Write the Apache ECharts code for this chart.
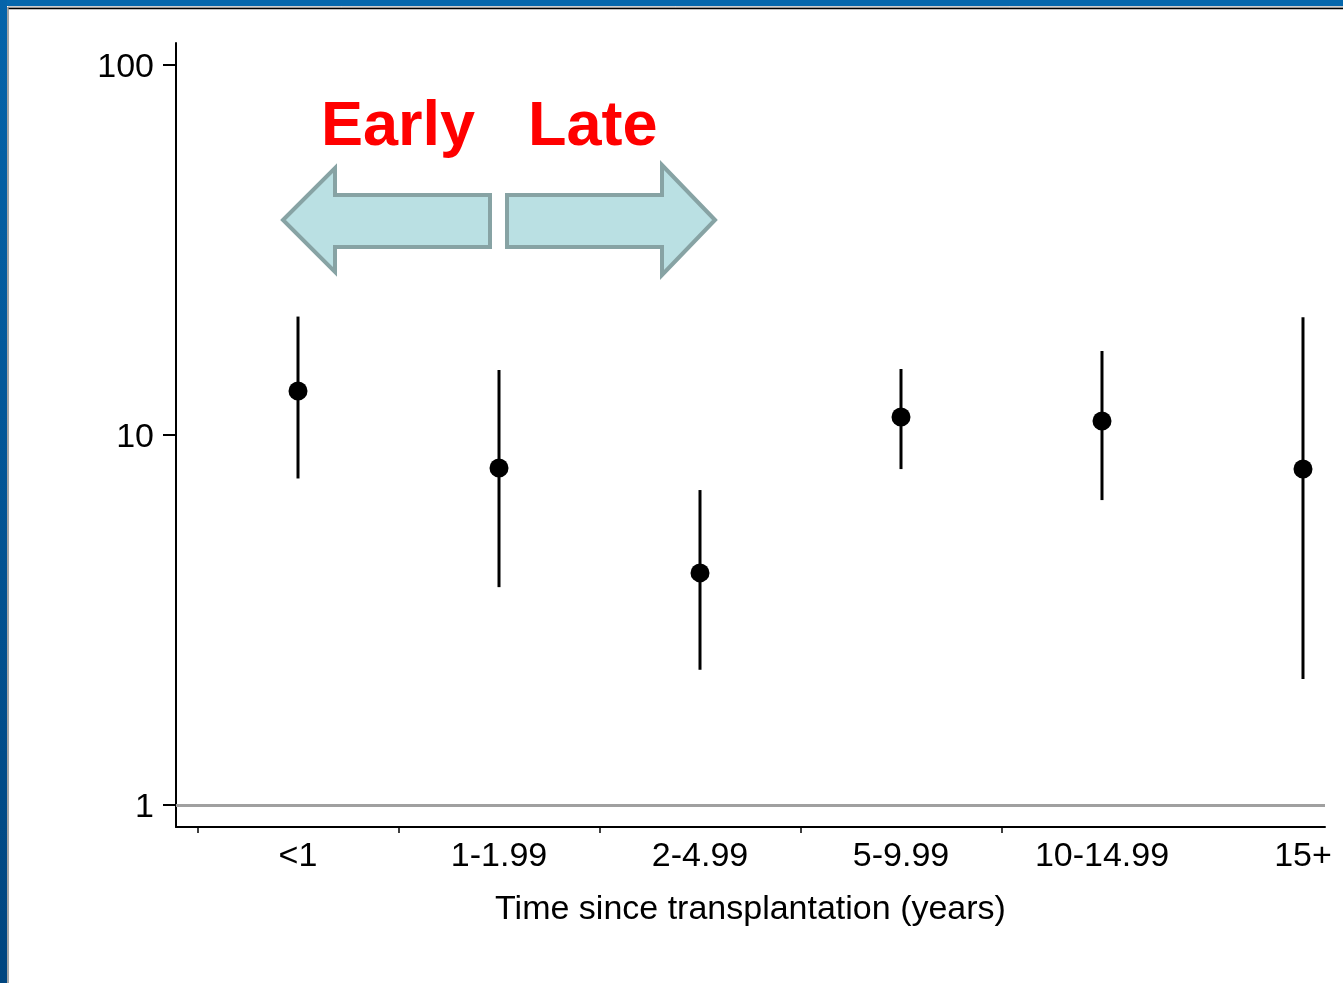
<!DOCTYPE html>
<html>
<head>
<meta charset="utf-8">
<script src="https://cdn.jsdelivr.net/npm/echarts@6/dist/echarts.min.js"></script>
<style>
html,body{margin:0;padding:0;background:#fff;}
#chart{width:1343px;height:983px;}
</style>
</head>
<body>
<div id="chart"></div>
<script>
const categories = ['<1', '1-1.99', '2-4.99', '5-9.99', '10-14.99', '15+'];
const estimates = [13.15, 8.14, 4.24, 11.18, 10.91, 8.09];
const lowerCI = [7.63, 3.88, 2.32, 8.09, 6.67, 2.19];
const upperCI = [20.9, 14.99, 7.10, 15.08, 16.87, 20.8];
const yTickValues = [1, 10, 100];
const xBoundaryTicks = [0.5, 1.5, 2.5, 3.5, 4.5];
const xTitle = 'Time since transplantation (years)';

const FONT = 'Liberation Sans, Arial, sans-serif';
const pointData = categories.map((c, i) => [i + 1, estimates[i]]);
const ciData = categories.map((c, i) => [i + 1, lowerCI[i], upperCI[i]]);

const chart = echarts.init(document.getElementById('chart'), null, {renderer: 'canvas'});

const leftArrow = [[283,220],[335,168],[335,195],[490,195],[490,247],[335,247],[335,272]];
const rightArrow = [[715,220],[662,165],[662,195],[507,195],[507,247],[662,247],[662,275]];

chart.setOption({
  animation: false,
  backgroundColor: '#ffffff',
  grid: {left: 176, right: 18, top: 43, bottom: 156, containLabel: false},
  xAxis: {
    type: 'value',
    min: 0.393,
    max: 6.1095,
    splitLine: {show: false},
    axisLine: {show: true, onZero: false, lineStyle: {color: '#000', width: 2}},
    axisTick: {show: true, length: 6, lineStyle: {color: '#000', width: 1.5}, customValues: xBoundaryTicks},
    axisLabel: {
      show: true, customValues: [1,2,3,4,5,6], margin: 13,
      color: '#000', fontSize: 34, fontFamily: FONT,
      formatter: v => categories[Math.round(v) - 1] || ''
    },
    name: xTitle,
    nameLocation: 'middle',
    nameGap: 66,
    nameTextStyle: {color: '#000', fontSize: 34, fontFamily: FONT}
  },
  yAxis: {
    type: 'log',
    logBase: 10,
    min: 0.872,
    max: 114.7,
    splitLine: {show: false},
    axisLine: {show: true, onZero: false, lineStyle: {color: '#000', width: 2}},
    axisTick: {show: true, length: 13, lineStyle: {color: '#000', width: 2}, customValues: yTickValues},
    axisLabel: {
      show: true, customValues: yTickValues, margin: 22,
      color: '#000', fontSize: 34, fontFamily: FONT,
      formatter: v => '{t|' + String(Math.round(v)) + '}',
      rich: {t: {fontSize: 34, fontFamily: FONT, color: '#000', padding: [6, 0, 0, 0]}}
    }
  },
  series: [
    {
      type: 'custom',
      data: ciData,
      z: 3,
      renderItem: function (params, api) {
        const lo = api.coord([api.value(0), api.value(1)]);
        const hi = api.coord([api.value(0), api.value(2)]);
        return {
          type: 'line',
          shape: {x1: lo[0], y1: lo[1], x2: hi[0], y2: hi[1]},
          style: {stroke: '#000', lineWidth: 3}
        };
      },
      encode: {x: 0, y: [1, 2]}
    },
    {
      type: 'scatter',
      data: pointData,
      symbol: 'circle',
      symbolSize: 19,
      z: 4,
      itemStyle: {color: '#000', opacity: 1},
      markLine: {
        silent: true,
        symbol: ['none', 'none'],
        label: {show: false},
        lineStyle: {color: '#a0a0a0', width: 3, type: 'solid'},
        data: [{yAxis: 1}]
      }
    }
  ],
  graphic: [
    {type: 'rect', shape: {x: 0, y: 0, width: 1343, height: 6}, style: {fill: '#0567ad'}, z: 100},
    {type: 'rect', shape: {x: 0, y: 0, width: 7, height: 983},
      style: {fill: new echarts.graphic.LinearGradient(0, 0, 0, 1, [{offset: 0, color: '#0564aa'}, {offset: 1, color: '#00457f'}])}, z: 100},
    {type: 'line', shape: {x1: 8, y1: 7, x2: 1343, y2: 7}, style: {stroke: '#999', lineWidth: 1}, z: 100},
    {type: 'line', shape: {x1: 8, y1: 8.5, x2: 1343, y2: 8.5}, style: {stroke: '#000', lineWidth: 1.5}, z: 100},
    {type: 'line', shape: {x1: 8, y1: 7, x2: 8, y2: 983}, style: {stroke: '#888', lineWidth: 1.5}, z: 100},
    {type: 'polygon', shape: {points: leftArrow}, style: {fill: '#bae0e3', stroke: '#87a3a4', lineWidth: 4, lineJoin: 'miter'}, z: 50},
    {type: 'polygon', shape: {points: rightArrow}, style: {fill: '#bae0e3', stroke: '#87a3a4', lineWidth: 4, lineJoin: 'miter'}, z: 50},
    {type: 'text', x: 321, y: 128, style: {text: 'Early', font: 'bold 63px ' + FONT, fill: '#ff0000', verticalAlign: 'middle', align: 'left'}, z: 50},
    {type: 'text', x: 528, y: 128, style: {text: 'Late', font: 'bold 63px ' + FONT, fill: '#ff0000', verticalAlign: 'middle', align: 'left'}, z: 50}
  ]
});
</script>
</body>
</html>
